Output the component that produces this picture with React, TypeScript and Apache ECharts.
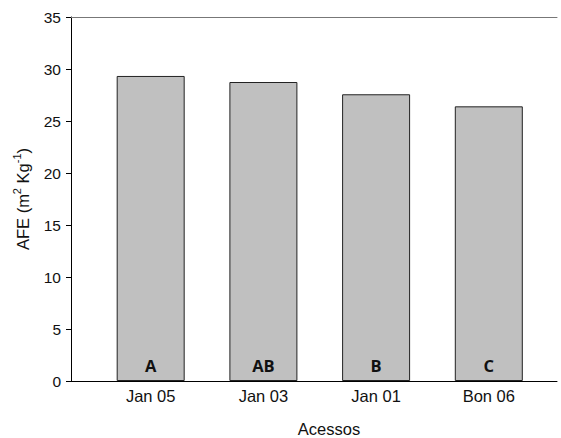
import React, { useEffect, useRef } from "react";
import * as echarts from "echarts";

const categories = ["Jan 05", "Jan 03", "Jan 01", "Bon 06"];
const values = [29.33, 28.75, 27.57, 26.41];
const letters = ["A", "AB", "B", "C"];
const yTicks = { min: 0, max: 35, interval: 5 };

export default function App() {
  const ref = useRef<HTMLDivElement>(null);
  useEffect(() => {
    if (!ref.current) return;
    document.body.style.margin = "0";
    const chart = echarts.init(ref.current, null, { renderer: "svg" });
    const font = "'Liberation Sans', Arial, sans-serif";
    chart.setOption({
      animation: false,
      backgroundColor: "#ffffff",
      grid: { left: 71, right: 4, top: 17, bottom: 57 },
      xAxis: [
        {
          type: "value",
          min: -0.707,
          max: 3.605,
          minInterval: 1,
          maxInterval: 1,
          splitLine: { show: false },
          axisTick: { show: false },
          axisLine: { show: true, onZero: false, lineStyle: { color: "#000", width: 1 } },
          axisLabel: {
            margin: 6,
            fontFamily: font,
            fontSize: 16.5,
            color: "#111",
            showMinLabel: false,
            showMaxLabel: false,
            formatter: (v: number) => {
              const i = Math.round(v);
              return Math.abs(v - i) < 1e-6 && i >= 0 && i < categories.length ? categories[i] : "";
            },
          },
        },
        {
          type: "value",
          position: "top",
          min: -0.707,
          max: 3.605,
          splitLine: { show: false },
          axisTick: { show: false },
          axisLabel: { show: false },
          axisLine: { show: true, onZero: false, lineStyle: { color: "#777", width: 1 } },
        },
      ],
      yAxis: {
        type: "value",
        min: yTicks.min,
        max: yTicks.max,
        interval: yTicks.interval,
        name: "{n|AFE (m}{sup|2}{n| Kg}{sup|-1}{n|)}",
        nameLocation: "middle",
        nameGap: 40,
        nameTextStyle: {
          fontFamily: font,
          fontSize: 16.5,
          color: "#111",
          rich: {
            n: { fontFamily: font, fontSize: 16.5, color: "#111", lineHeight: 20, verticalAlign: "bottom" },
            sup: { fontFamily: font, fontSize: 11, color: "#111", lineHeight: 20, verticalAlign: "top", padding: [0, 0, 6, 0] },
          },
        },
        splitLine: { show: false },
        axisLine: { show: true, onZero: false, lineStyle: { color: "#000", width: 1 } },
        axisTick: { show: true, length: 5, lineStyle: { color: "#000" } },
        axisLabel: { margin: 10, fontFamily: font, fontSize: 15.5, color: "#111" },
      },
      series: [
        {
          type: "bar",
          xAxisIndex: 0,
          barWidth: 68,
          data: values.map((v, i) => [i, v]),
          itemStyle: { color: "#c0c0c0", borderColor: "#222", borderWidth: 1 },
          label: {
            show: true,
            position: "insideBottom",
            distance: 7,
            fontFamily: "'Open Sans', sans-serif",
            fontWeight: "bold",
            fontSize: 16.5,
            color: "#111",
            formatter: (p: any) => letters[p.dataIndex],
          },
        },
      ],
      graphic: [
        {
          type: "text",
          x: 329,
          y: 429,
          style: {
            text: "Acessos",
            font: `16.5px ${font}`,
            fill: "#111",
            align: "center",
            verticalAlign: "middle",
          },
        },
      ],
    });
    return () => chart.dispose();
  }, []);
  return (
    <div
      ref={ref}
      style={{ width: 561, height: 438, position: "absolute", left: 0, top: 0 }}
    />
  );
}
